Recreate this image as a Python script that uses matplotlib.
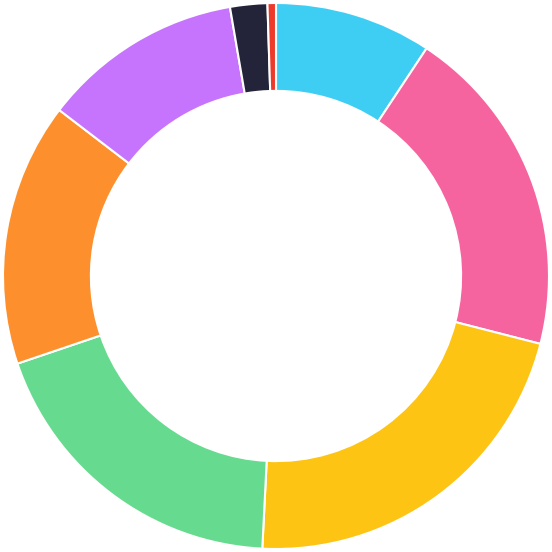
import matplotlib
matplotlib.use("Agg")
import matplotlib.pyplot as plt

# segment shares (percent), clockwise from 12 o'clock
labels = ["A", "B", "C", "D", "E", "F", "G", "H"]
values = [9.3, 19.7, 21.8, 19.0, 15.6, 11.9, 2.2, 0.5]
colors = ["#3ecef4", "#f6649f", "#fdc414", "#66da8e",
          "#fd902c", "#c674fd", "#23243a", "#ee3a2b"]

fig = plt.figure(figsize=(5.52, 5.52), dpi=100)
ax = fig.add_axes([0, 0, 1, 1])

outer = 273 / 276
ax.pie(values, colors=colors, startangle=90, counterclock=False,
       radius=outer,
       wedgeprops=dict(width=outer * 0.322, edgecolor="white", linewidth=1.5))
ax.set_xlim(-1, 1)
ax.set_ylim(-1, 1)
ax.set_aspect("equal")
ax.axis("off")

fig.savefig("out.png", dpi=100)
